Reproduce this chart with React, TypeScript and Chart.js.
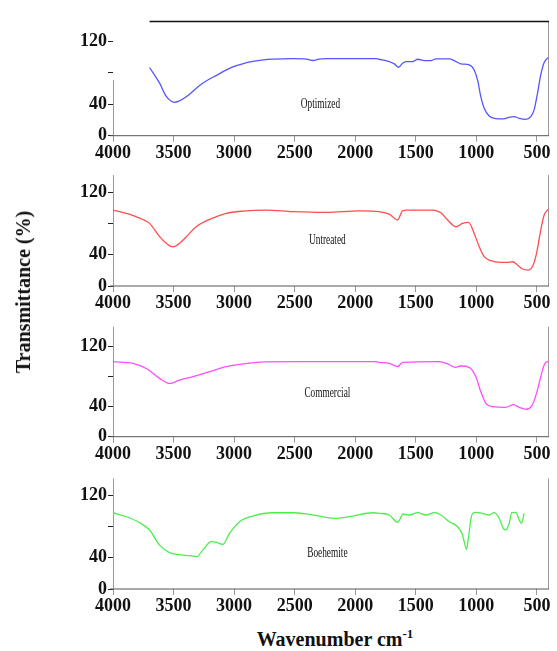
import React, { useEffect, useRef } from "react";
import { Chart, registerables } from "chart.js";

Chart.register(...registerables);

const FONT = '"Liberation Serif", "Times New Roman", serif';

const xTicks = [4000, 3500, 3000, 2500, 2000, 1500, 1000, 500];
const yTicks = [0, 40, 80, 120];
const yTickLabels = ["0", "40", "", "120"];

const panelNames = ["Optimized", "Untreated", "Commercial", "Boehemite"];

const optimizedWn = [3698, 3615, 3560, 3492, 3450, 3395, 3285, 3200, 3148, 3080, 3010, 2930, 2846, 2760, 2680, 2516, 2400, 2350, 2300, 2240, 2000, 1828, 1801, 1719, 1677, 1642, 1609, 1581, 1526, 1485, 1430, 1375, 1334, 1224, 1183, 1128, 1059, 1018, 990, 963, 935, 894, 839, 784, 729, 688, 646, 591, 550, 523, 495, 468, 440, 413, 405];
const optimizedT = [86.8, 67, 50, 42.5, 44.5, 49.5, 64, 72.5, 76.5, 82.5, 87.5, 91.5, 94.5, 96.5, 97.4, 98, 97.5, 95.7, 97.5, 98, 98, 98, 97.3, 94.3, 91.4, 87.1, 92.2, 94.3, 94.3, 97.3, 95.6, 95.6, 97.7, 97.7, 95.6, 91.4, 90.1, 83.7, 71, 49.8, 34.9, 25.1, 21.7, 21.3, 23.4, 24.3, 22.2, 20.9, 24.3, 32.8, 54, 77.4, 93.1, 98.6, 99];

const untreatedWn = [4000, 3890, 3753, 3698, 3615, 3560, 3505, 3450, 3400, 3313, 3203, 3065, 2928, 2736, 2516, 2240, 1966, 1801, 1719, 1650, 1609, 1581, 1361, 1292, 1237, 1169, 1114, 1064, 1018, 976, 935, 880, 798, 743, 701, 660, 619, 569, 531, 503, 468, 440, 413, 405];
const untreatedT = [97, 92.8, 85, 80, 63, 54.5, 50, 54.5, 62, 75.7, 85, 92.8, 95.7, 97, 95, 94, 96, 94.9, 91.9, 84.3, 96.2, 97, 97, 93.6, 84.3, 75.7, 80, 81.3, 67.2, 50.2, 37.4, 32.3, 30.2, 30.2, 31, 26.8, 21.7, 20.4, 26.8, 41.7, 71.5, 90.6, 97, 98];

const commercialWn = [4000, 3835, 3725, 3615, 3533, 3450, 3340, 3203, 3065, 2928, 2790, 2516, 1828, 1801, 1719, 1650, 1609, 1306, 1237, 1174, 1128, 1059, 1004, 963, 921, 866, 756, 693, 646, 591, 542, 503, 468, 440, 413, 405];
const commercialT = [100, 97.8, 91, 77.8, 71, 75.5, 80, 86.7, 93.3, 97, 99.5, 100, 100, 99.2, 97.8, 93.4, 99.2, 100, 97, 92.5, 94.3, 92.5, 80, 60, 44.5, 40, 39.2, 42.7, 39.2, 36.5, 41, 57.8, 80, 95.6, 100, 100];

const boehmiteWn = [4000, 3890, 3780, 3698, 3615, 3533, 3423, 3340, 3307, 3258, 3189, 3134, 3093, 3038, 2955, 2846, 2680, 2516, 2378, 2158, 2021, 1856, 1801, 1719, 1650, 1603, 1554, 1485, 1416, 1347, 1292, 1224, 1155, 1119, 1100, 1081, 1064, 1037, 1004, 949, 894, 853, 811, 778, 756, 729, 707, 674, 646, 627, 605];
const boehmiteT = [97.4, 92.3, 84.7, 75.3, 56, 46.4, 43.4, 42, 41.3, 50, 60.4, 59, 57, 71, 86, 93.2, 97.4, 97.4, 95.3, 90.2, 93.2, 97.4, 96.7, 94.5, 85.2, 95.8, 94.5, 97.5, 94.5, 97.5, 94.5, 86, 79.6, 71.1, 60.5, 50.7, 66.9, 94.5, 98, 96.7, 94.5, 97.5, 90.3, 77.5, 75.4, 83.9, 97.5, 98, 88.2, 83.9, 96.7];

const seriesColors = ["#5555ff", "#ff4d4d", "#ff4dff", "#4ded4d"];

type Panel = {
  name: string;
  wn: number[];
  t: number[];
  color: string;
  chartTop: number;
  zero: number;
  yMax: number;
  leftAxisFrom: number | null;
  topLineFrom: number | null;
  labelWn: number;
  labelT: number;
};

const panels: Panel[] = [
  { name: panelNames[0], wn: optimizedWn, t: optimizedT, color: seriesColors[0], chartTop: 21, zero: 135.7, yMax: 146, leftAxisFrom: 71, topLineFrom: 3698, labelWn: 2287, labelT: 40.8 },
  { name: panelNames[1], wn: untreatedWn, t: untreatedT, color: seriesColors[1], chartTop: 175, zero: 286, yMax: 141.8, leftAxisFrom: null, topLineFrom: null, labelWn: 2230, labelT: 58.7 },
  { name: panelNames[2], wn: commercialWn, t: commercialT, color: seriesColors[2], chartTop: 326.7, zero: 436.7, yMax: 146.7, leftAxisFrom: null, topLineFrom: null, labelWn: 2230, labelT: 58.7 },
  { name: panelNames[3], wn: boehmiteWn, t: boehmiteT, color: seriesColors[3], chartTop: 478.3, zero: 589, yMax: 141.4, leftAxisFrom: null, topLineFrom: null, labelWn: 2230, labelT: 46.4 },
];

const X_AXIS_H = 28;
const W = 557;

function PanelChart({ p }: { p: Panel }) {
  const ref = useRef<HTMLCanvasElement>(null);
  const canvasTop = Math.floor(p.chartTop) - 5;
  const canvasH = Math.ceil(p.zero) + X_AXIS_H + 2 - canvasTop;
  const padTop = p.chartTop - canvasTop;
  const padBottom = canvasTop + canvasH - X_AXIS_H - p.zero;

  useEffect(() => {
    const framePlugin = {
      id: "frame" + p.name,
      beforeDatasetsDraw(chart: any) {
        const { ctx, chartArea, scales } = chart;
        const { left, right, top, bottom } = chartArea;
        ctx.save();
        ctx.lineWidth = 1;
        ctx.strokeStyle = "#9a9a9a";
        const leftTop = p.leftAxisFrom !== null ? scales.y.getPixelForValue(p.leftAxisFrom) : top;
        ctx.beginPath();
        ctx.moveTo(left + 0.5, leftTop);
        ctx.lineTo(left + 0.5, bottom);
        ctx.moveTo(right - 0.5, top);
        ctx.lineTo(right - 0.5, bottom);
        ctx.stroke();
        ctx.strokeStyle = "#555";
        ctx.beginPath();
        ctx.moveTo(left - 3, bottom);
        ctx.lineTo(right, bottom);
        ctx.stroke();
        if (p.topLineFrom !== null) {
          ctx.strokeStyle = "#111";
          ctx.lineWidth = 1.4;
          ctx.beginPath();
          ctx.moveTo(scales.x.getPixelForValue(p.topLineFrom), top + 0.5);
          ctx.lineTo(right, top + 0.5);
          ctx.stroke();
        }
        ctx.restore();
      },
      afterDatasetsDraw(chart: any) {
        const { ctx, scales } = chart;
        const cx = scales.x.getPixelForValue(p.labelWn);
        const cy = scales.y.getPixelForValue(p.labelT);
        ctx.save();
        ctx.translate(cx, cy);
        ctx.scale(0.62, 1);
        ctx.font = "15px " + FONT;
        ctx.fillStyle = "#111";
        ctx.textAlign = "center";
        ctx.textBaseline = "middle";
        ctx.fillText(p.name, 0, 0);
        ctx.restore();
      },
    };

    const chart = new Chart(ref.current as HTMLCanvasElement, {
      type: "line",
      data: {
        datasets: [
          {
            data: p.wn.map((x, i) => ({ x, y: p.t[i] })),
            borderColor: p.color,
            borderWidth: 1.3,
            pointRadius: 0,
            cubicInterpolationMode: "monotone",
            fill: false,
          },
        ],
      },
      options: {
        animation: false,
        responsive: false,
        devicePixelRatio: 1,
        events: [],
        layout: { padding: { left: 0, right: 8, top: padTop, bottom: padBottom } },
        plugins: { legend: { display: false }, tooltip: { enabled: false } },
        scales: {
          x: {
            type: "linear",
            min: 400,
            max: 4000,
            reverse: true,
            afterBuildTicks: (s: any) => {
              s.ticks = xTicks.map((v) => ({ value: v }));
            },
            afterFit: (s: any) => {
              s.height = X_AXIS_H;
              s.paddingLeft = 0;
              s.paddingRight = 0;
            },
            grid: { drawOnChartArea: false, drawTicks: true, tickLength: 6, color: "#999" },
            border: { display: false },
            ticks: {
              autoSkip: false,
              maxRotation: 0,
              padding: 1,
              color: "#111",
              font: { family: FONT, size: 18, weight: "bold" },
              callback: (v: any) => String(v),
            },
          },
          y: {
            min: 0,
            max: p.yMax,
            afterBuildTicks: (s: any) => {
              s.ticks = yTicks.map((v) => ({ value: v }));
            },
            afterFit: (s: any) => {
              s.width = 113;
              s.paddingTop = 0;
              s.paddingBottom = 0;
            },
            grid: { drawOnChartArea: false, drawTicks: true, tickLength: 5, color: "#222" },
            border: { display: false },
            ticks: {
              padding: 1,
              color: "#111",
              font: { family: FONT, size: 18, weight: "bold" },
              callback: (v: any) => {
                const i = yTicks.indexOf(v);
                return i >= 0 ? yTickLabels[i] : "";
              },
            },
          },
        },
      },
      plugins: [framePlugin],
    } as any);
    return () => chart.destroy();
  }, []);

  return (
    <canvas
      ref={ref}
      width={W}
      height={canvasH}
      style={{ position: "absolute", left: 0, top: canvasTop, width: W, height: canvasH }}
    />
  );
}

export default function App() {
  return (
    <div
      style={{
        position: "fixed",
        left: 0,
        top: 0,
        width: W,
        height: 651,
        background: "#fff",
        overflow: "hidden",
        fontFamily: FONT,
      }}
    >
      {panels.map((p) => (
        <PanelChart key={p.name} p={p} />
      ))}
      <div
        style={{
          position: "absolute",
          left: 23,
          top: 292,
          transform: "translate(-50%, -50%) rotate(-90deg)",
          whiteSpace: "nowrap",
          fontWeight: "bold",
          fontSize: 20,
          lineHeight: "20px",
          color: "#111",
        }}
      >
        Transmittance (%)
      </div>
      <div
        style={{
          position: "absolute",
          left: 335,
          top: 629,
          transform: "translateX(-50%)",
          whiteSpace: "nowrap",
          fontWeight: "bold",
          fontSize: 20,
          lineHeight: "20px",
          color: "#111",
        }}
      >
        Wavenumber cm
        <span style={{ fontSize: 13, position: "relative", top: -8 }}>-1</span>
      </div>
    </div>
  );
}
